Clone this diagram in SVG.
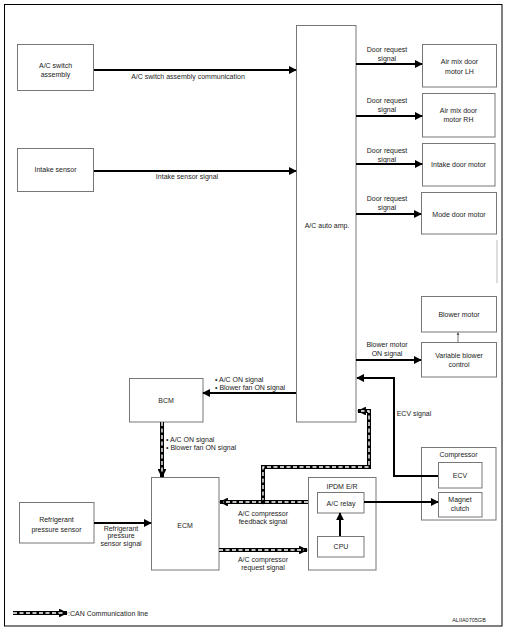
<svg xmlns="http://www.w3.org/2000/svg" width="510" height="633" viewBox="0 0 510 633">
<defs>
<style>
.box{fill:#fff;stroke:#777;stroke-width:1}
.t{font-family:"Liberation Sans",Arial,sans-serif;font-size:7px;fill:#222;text-anchor:middle}
.tl{font-family:"Liberation Sans",Arial,sans-serif;font-size:7px;fill:#222;text-anchor:start}
.w{fill:none;stroke:#000;stroke-width:2}
.canb{fill:none;stroke:#000;stroke-width:4}
.canw{fill:none;stroke:#fff;stroke-width:1.4;stroke-dasharray:4 2.5}
</style>
<marker id="ah" viewBox="0 0 10 10" refX="9" refY="5" markerWidth="4" markerHeight="4" orient="auto" markerUnits="strokeWidth">
<path d="M0,0 L10,5 L0,10 z" fill="#000"/>
</marker>
<marker id="ahc" viewBox="0 0 10 10" refX="9" refY="5" markerWidth="2.2" markerHeight="2.2" orient="auto" markerUnits="strokeWidth">
<path d="M0,0 L10,5 L0,10 z" fill="#000"/>
</marker>
<marker id="ahs" viewBox="0 0 10 10" refX="9" refY="5" markerWidth="4" markerHeight="4" orient="auto" markerUnits="strokeWidth">
<path d="M0,0 L10,5 L0,10 z" fill="#555"/>
</marker>
</defs>
<rect x="0" y="0" width="510" height="633" fill="#fff"/>
<rect x="4.5" y="4.5" width="497.5" height="621.5" fill="none" stroke="#000" stroke-width="1"/>

<g id="acswitch"><rect class="box" x="17.5" y="44.5" width="76" height="46"/><text class="t" x="55.5" y="68">A/C switch</text><text class="t" x="55.5" y="77">assembly</text></g>
<g id="intakesensor"><rect class="box" x="17.5" y="148.5" width="76" height="43"/><text class="t" x="55.5" y="172">Intake sensor</text></g>
<g id="acautoamp"><rect class="box" x="296.5" y="25.5" width="59.5" height="396.5"/><text class="t" x="327" y="228">A/C auto amp.</text></g>
<g id="airmixlh"><rect class="box" x="422.5" y="44.5" width="74" height="42.5"/><text class="t" x="459.5" y="64">Air mix door</text><text class="t" x="459.5" y="73.5">motor LH</text></g>
<g id="airmixrh"><rect class="box" x="422.5" y="93.5" width="72.5" height="43.5"/><text class="t" x="458.5" y="112.5">Air mix door</text><text class="t" x="458.5" y="122">motor RH</text></g>
<g id="intakedoor"><rect class="box" x="422.5" y="143.5" width="72.5" height="42.5"/><text class="t" x="458.5" y="166.5">Intake door motor</text></g>
<g id="modedoor"><rect class="box" x="421.5" y="192.5" width="75" height="41.5"/><text class="t" x="459" y="216.5">Mode door motor</text></g>
<g id="blowermotor"><rect class="box" x="421.5" y="296.5" width="75" height="35.5"/><text class="t" x="459" y="316.5">Blower motor</text></g>
<g id="varblower"><rect class="box" x="421.5" y="342.5" width="75" height="34.5"/><text class="t" x="459" y="357.5">Variable blower</text><text class="t" x="459" y="366.5">control</text></g>
<g id="bcm"><rect class="box" x="129.5" y="378.5" width="73.5" height="43.5"/><text class="t" x="166" y="402.5">BCM</text></g>
<g id="ecm"><rect class="box" x="151.5" y="477.5" width="67.5" height="92.5"/><text class="t" x="185" y="527.5">ECM</text></g>
<g id="refsensor"><rect class="box" x="19.5" y="502.5" width="74.5" height="40.5"/><text class="t" x="56.5" y="521.5">Refrigerant</text><text class="t" x="56.5" y="532">pressure sensor</text></g>
<g id="ipdm"><rect class="box" x="308.5" y="477.5" width="67.5" height="92.5"/><text class="t" x="342" y="488.5">IPDM E/R</text>
<rect class="box" x="317.5" y="492.5" width="46.5" height="20.5"/><text class="t" x="341" y="505.5">A/C relay</text>
<rect class="box" x="317.5" y="536.5" width="46.5" height="20.5"/><text class="t" x="341" y="549">CPU</text></g>
<g id="compressor"><rect class="box" x="421.5" y="447.5" width="74.5" height="72.5"/><text class="t" x="458.5" y="456.5">Compressor</text>
<rect class="box" x="438.5" y="462.5" width="43.5" height="25.5"/><text class="t" x="460" y="477.5">ECV</text>
<rect class="box" x="438.5" y="492.5" width="43.5" height="24.5"/><text class="t" x="460" y="501.5">Magnet</text><text class="t" x="460" y="510.5">clutch</text></g>

<g id="connectors">
<line class="w" x1="94" y1="70" x2="296" y2="70" marker-end="url(#ah)"/>
<line class="w" x1="94" y1="171" x2="296" y2="171" marker-end="url(#ah)"/>
<line class="w" x1="356" y1="64" x2="422" y2="64" marker-end="url(#ah)"/>
<line class="w" x1="356" y1="116" x2="422" y2="116" marker-end="url(#ah)"/>
<line class="w" x1="356" y1="164" x2="422" y2="164" marker-end="url(#ah)"/>
<line class="w" x1="356" y1="214" x2="421" y2="214" marker-end="url(#ah)"/>
<line class="w" x1="356" y1="360" x2="421" y2="360" marker-end="url(#ah)"/>
<line x1="458" y1="342" x2="458" y2="332.5" stroke="#555" stroke-width="0.8" marker-end="url(#ahs)"/>
<line x1="497" y1="240" x2="497" y2="283" stroke="#bbb" stroke-width="1"/>
<polyline class="w" points="438,476 394,476 394,378 357,378" marker-end="url(#ah)"/>
<line class="w" x1="296" y1="393" x2="203" y2="393" marker-end="url(#ah)"/>
<line class="w" x1="94" y1="523" x2="151" y2="523" marker-end="url(#ah)"/>
<line class="w" x1="340" y1="536" x2="340" y2="513" marker-end="url(#ah)"/>
<line class="w" x1="364" y1="502" x2="438" y2="502" marker-end="url(#ah)"/>
<!-- CAN lines -->
<polyline class="canb" points="263,502 263,467 369,467 369,411 358,411" marker-end="url(#ahc)"/>
<polyline class="canw" points="263,502 263,467 369,467 369,411 361,411"/>
<line class="canb" x1="308" y1="502" x2="220" y2="502" marker-end="url(#ahc)"/>
<line class="canw" x1="308" y1="502" x2="223" y2="502"/>
<circle cx="263" cy="502" r="2.3" fill="#000"/>
<line class="canb" x1="219" y1="550" x2="307" y2="550" marker-end="url(#ahc)"/>
<line class="canw" x1="219" y1="550" x2="304" y2="550"/>
<line class="canb" x1="162" y1="422" x2="162" y2="477" marker-end="url(#ahc)"/>
<line class="canw" x1="162" y1="422" x2="162" y2="474"/>
<line class="canb" x1="13" y1="613" x2="67" y2="613" marker-end="url(#ahc)"/>
<line class="canw" x1="13" y1="613" x2="64" y2="613"/>
</g>

<g id="labels">
<text class="t" x="188" y="79">A/C switch assembly communication</text>
<text class="t" x="187" y="178.5">Intake sensor signal</text>
<text class="t" x="387" y="51.5">Door request</text><text class="t" x="387" y="61">signal</text>
<text class="t" x="387" y="102.5">Door request</text><text class="t" x="387" y="112">signal</text>
<text class="t" x="387" y="152.5">Door request</text><text class="t" x="387" y="162">signal</text>
<text class="t" x="387" y="200.5">Door request</text><text class="t" x="387" y="210">signal</text>
<text class="t" x="387" y="346.5">Blower motor</text><text class="t" x="387" y="355.5">ON signal</text>
<text class="t" x="414" y="415.5">ECV signal</text>
<text class="tl" x="215" y="382">• A/C ON signal</text><text class="tl" x="215" y="389.5">• Blower fan ON signal</text>
<text class="tl" x="166" y="442">• A/C ON signal</text><text class="tl" x="166" y="449.5">• Blower fan ON signal</text>
<text class="t" x="263" y="515.5">A/C compressor</text><text class="t" x="263" y="524">feedback signal</text>
<text class="t" x="263" y="561.5">A/C compressor</text><text class="t" x="263" y="570">request signal</text>
<text class="t" x="121" y="530.5">Refrigerant</text><text class="t" x="121" y="538">pressure</text><text class="t" x="121" y="545.5">sensor signal</text>
<text class="tl" x="68" y="615.5">:CAN Communication line</text>
<text class="t" x="469" y="622" style="font-size:5.5px">ALIIA0705GB</text>
</g>
</svg>
